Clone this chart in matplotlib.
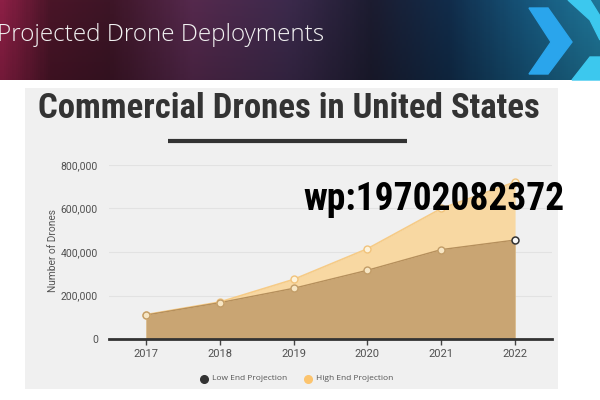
import numpy as np
import matplotlib.pyplot as plt
from matplotlib.colors import LinearSegmentedColormap
from matplotlib.patches import Rectangle, Polygon
from matplotlib.ticker import FuncFormatter

years = [2017, 2018, 2019, 2020, 2021, 2022]
low_end = [110000, 167000, 233000, 316000, 411000, 455000]
high_end = [112000, 170000, 274000, 415000, 600000, 722000]
y_ticks = [0, 200000, 400000, 600000, 800000]

slide_title = 'Projected Drone Deployments'
chart_title = 'Commercial Drones in United States'
y_label = 'Number of Drones'
legend_labels = ['Low End Projection', 'High End Projection']
watermark = 'wp:19702082372'

W, H = 600, 400
NARROW = ['Liberation Sans Narrow', 'Roboto Condensed', 'DejaVu Sans']


def fx(px):
    return px / W


def fy(py):
    return 1 - py / H


fig = plt.figure(figsize=(6, 4), dpi=100)
fig.patch.set_facecolor('white')

# background layer in pixel coordinates
bg = fig.add_axes([0, 0, 1, 1], zorder=0)
bg.set_xlim(0, W)
bg.set_ylim(H, 0)
bg.axis('off')

# header band gradient
stops = [(0.0, '#8c1f45'), (0.08, '#4a1528'), (0.18, '#3d1526'), (0.32, '#55294d'),
         (0.48, '#3c2a4c'), (0.62, '#1c1c30'), (0.75, '#112c4a'), (0.88, '#16557a'),
         (1.0, '#1f7597')]
cmap = LinearSegmentedColormap.from_list('hdr', stops)
grad = np.tile(np.linspace(0, 1, 300), (40, 1))
rgb = cmap(grad)[..., :3]
shade = np.linspace(1.0, 0.82, 40)[:, None, None]
bg.imshow(rgb * shade, extent=[0, W, 80, 0], aspect='auto', zorder=1)

# logo chevrons
bg.add_patch(Polygon([(529, 8), (548, 8), (572, 42), (548, 74), (529, 74), (551, 42)],
                     closed=True, color='#2aa5ec', zorder=2))
bg.add_patch(Polygon([(568, 0), (590, 0), (600, 16), (600, 40), (590, 20)],
                     closed=True, color='#3cc8ee', zorder=2))
bg.add_patch(Polygon([(572, 80), (590, 57), (600, 57), (600, 80)],
                     closed=True, color='#3cc8ee', zorder=2))

bg.text(-3, 35, slide_title, fontsize=17.5, color='#f2f2f2', va='center', ha='left',
        family='Open Sans', fontweight='light', zorder=3)

# chart panel
bg.add_patch(Rectangle((25, 88), 533, 301, facecolor='#f0f0f0', edgecolor='none', zorder=1))
bg.text(289, 108, chart_title, fontsize=25, fontweight='bold', color='#333333',
        ha='center', va='center', family=NARROW, zorder=3)
bg.plot([168, 407], [141, 141], color='#333333', lw=3, solid_capstyle='butt', zorder=3)

# legend
bg.plot(204, 379, 'o', ms=5.5, color='#333333', zorder=3)
bg.text(212, 379, legend_labels[0], fontsize=6, color='#555555', va='center',
        family='Open Sans', zorder=3)
bg.plot(308, 379, 'o', ms=5.5, color='#fcc46e', zorder=3)
bg.text(316, 379, legend_labels[1], fontsize=6, color='#555555', va='center',
        family='Open Sans', zorder=3)

# main chart axes
ax = fig.add_axes([fx(109), fy(339), fx(552 - 109), (339 - 165) / H], zorder=1)
ax.patch.set_alpha(0)
ax.set_xlim(2016.5, 2022.5)
ax.set_ylim(0, 800000)

ax.fill_between(years, high_end, color='#f8d8a2', lw=0, zorder=1)
ax.fill_between(years, low_end, color='#c9a573', lw=0, zorder=2)
ax.plot(years, high_end, color='#f6cb86', lw=1.2, zorder=3)
ax.plot(years, low_end, color='#b58f5c', lw=1.0, zorder=3)
ax.plot(years, high_end, 'o', ms=5, mfc='#fdf3dc', mec='#f1c37c', mew=1, zorder=4, clip_on=False)
ax.plot(years[:-1], low_end[:-1], 'o', ms=5, mfc='#f7e6c4', mec='#c29d68', mew=1, zorder=5, clip_on=False)
ax.plot(years[-1:], low_end[-1:], 'o', ms=5, mfc='#fafafa', mec='#333333', mew=1.1, zorder=5, clip_on=False)

ax.set_yticks(y_ticks)
ax.yaxis.set_major_formatter(FuncFormatter(lambda v, p: f'{int(v):,}'))
ax.set_xticks(years)
ax.grid(axis='y', color='#e2e2e2', lw=0.8)
ax.set_axisbelow(True)
for s in ['top', 'right', 'left']:
    ax.spines[s].set_visible(False)
ax.spines['bottom'].set_color('#333333')
ax.spines['bottom'].set_linewidth(2)
ax.spines['bottom'].set_zorder(6)
ax.tick_params(axis='y', length=0, pad=8, labelsize=7.5, labelcolor='#505050')
ax.tick_params(axis='x', length=4, width=1, color='#444444', pad=3, labelsize=8,
               labelcolor='#505050')
for lbl in ax.get_xticklabels() + ax.get_yticklabels():
    lbl.set_family('Roboto')

fig.text(fx(53), fy(251), y_label, rotation=90, ha='center', va='center', fontsize=7.3,
         color='#555555', family='Roboto')

# watermark on top
fig.text(fx(434), fy(200), watermark, fontsize=27, fontweight='bold', color='black',
         ha='center', va='center', family=NARROW, zorder=10)

fig.savefig('out.png', dpi=100)
